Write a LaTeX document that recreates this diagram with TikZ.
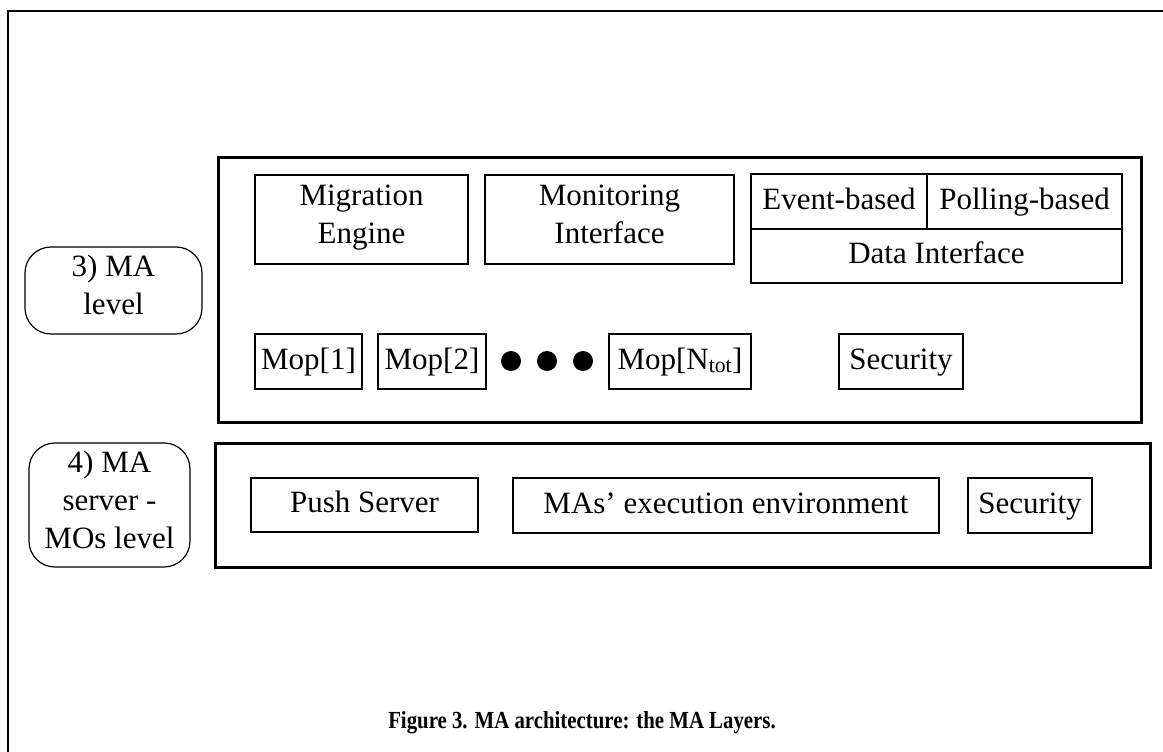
\documentclass[tikz,border=0pt]{standalone}
\usepackage{fontspec}
\setmainfont{Liberation Serif}
\newfontfamily\capfont{Liberation Serif}[FakeStretch=0.85]
\begin{document}
\begin{tikzpicture}[x=1pt,y=-1pt,
  every node/.style={font=\fontsize{31}{38}\selectfont, inner sep=0pt, align=center},
  txt/.style={execute at begin node=\strut, execute at end node=\strut},
  box/.style={draw, line width=1.1pt, rectangle, txt},
  layer/.style={draw, line width=3pt, rectangle},
  lvl/.style={draw, line width=1.2pt, rectangle, rounded corners=26pt, txt},
  dot/.style={circle, fill=black, minimum size=20pt}]
\useasboundingbox (0,0) rectangle (1163,752);
% outer frame
\coordinate (ftr) at (1163,11);
\coordinate (ftl) at (8,11);
\coordinate (fbl) at (8,752);
\draw[line width=2pt] (ftr) -- (ftl) -- (fbl);
% layers
\node[layer, minimum width=923pt, minimum height=265pt] (L3) at (679.5,289.5) {};
\node[layer, minimum width=935pt, minimum height=124pt] (L4) at (682.5,505) {};
% level labels
\node[lvl, minimum width=177pt, minimum height=87pt] (lab3) at (113.5,290.5) {3) MA\\level};
\node[lvl, minimum width=161pt, minimum height=124pt] (lab4) at (109.5,505) {4) MA\\server -\\MOs level};
% layer 3 contents
\node[box, minimum width=213pt, minimum height=89pt] (mig) at (361.5,219.5) {Migration\\Engine};
\node[box, minimum width=249pt, minimum height=89pt] (mon) at (609.5,219.5) {Monitoring\\Interface};
\node[box, line width=1.6pt, minimum width=176pt, minimum height=55pt] (ev) at (839,201.5) {Event-based};
\node[box, line width=1.6pt, minimum width=195pt, minimum height=55pt] (poll) at (1024.5,201.5) {Polling-based};
\node[box, line width=1.4pt, minimum width=371pt, minimum height=54pt] (dint) at (936.5,256) {Data Interface};
\node[layer, line width=2.8pt, minimum width=371pt, minimum height=109pt] (dblk) at (936.5,228.5) {};
\node[box, minimum width=107pt, minimum height=55pt] (mop1) at (308.5,361.5) {Mop[1]};
\node[box, minimum width=108pt, minimum height=55pt] (mop2) at (432,361.5) {Mop[2]};
\node[dot] (d1) at (511,361) {};
\node[dot] (d2) at (547,361) {};
\node[dot] (d3) at (583,361) {};
\node[box, minimum width=142pt, minimum height=55pt] (mopn) at (680,361.5) {Mop[N\textsubscript{tot}]};
\node[box, minimum width=124pt, minimum height=55pt] (sec1) at (901,361.5) {Security};
% layer 4 contents
\node[box, minimum width=227pt, minimum height=54pt] (push) at (364.5,505) {Push Server};
\node[box, minimum width=426pt, minimum height=55pt] (mas) at (726,505.5) {MAs’ execution environment};
\node[box, minimum width=124pt, minimum height=55pt] (sec2) at (1030,505.5) {Security};
% caption
\node[font=\capfont\bfseries\fontsize{24.5}{28}\selectfont] (cap) at (582,723) {Figure 3. MA architecture: the MA Layers.};
\end{tikzpicture}
\end{document}
